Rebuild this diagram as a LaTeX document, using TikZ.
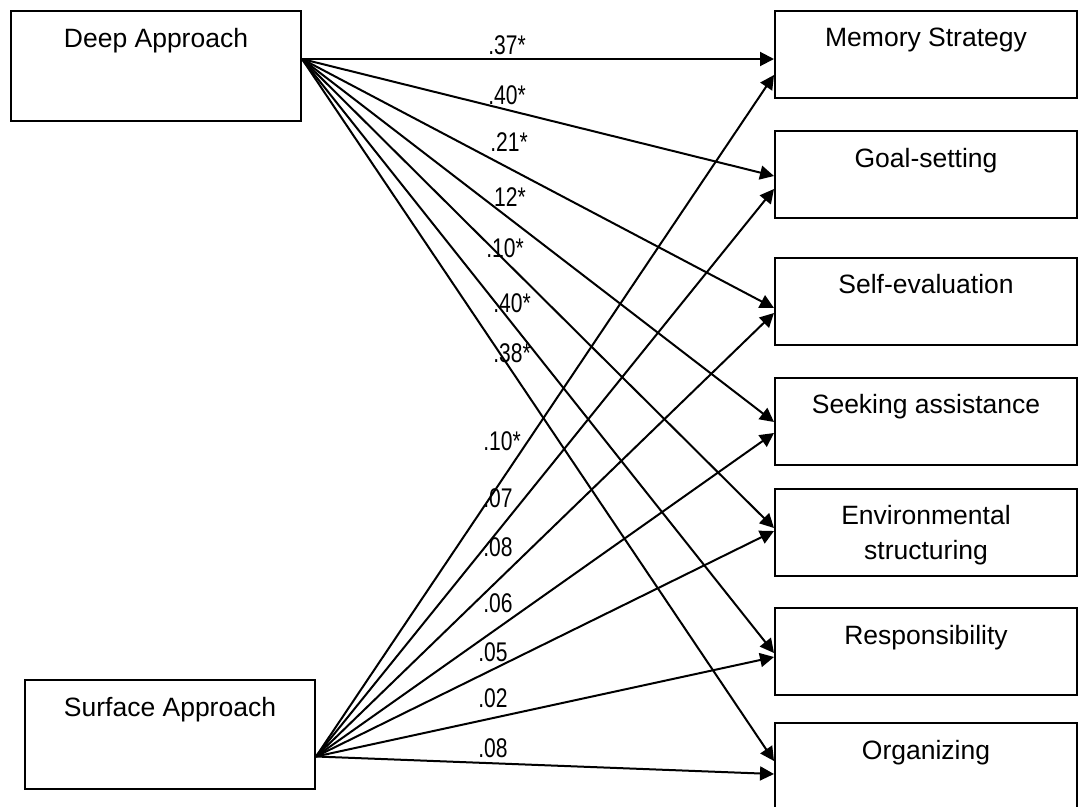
\documentclass[tikz,border=0pt]{standalone}
\usepackage{fontspec}
\setmainfont{Liberation Sans}
\newfontfamily\narrowsans{Liberation Sans}[FakeStretch=0.78]
\usetikzlibrary{arrows.meta,calc}

\begin{document}
\begin{tikzpicture}[x=1pt,y=-1pt,
  box/.style={draw=black,line width=2pt,fill=white,inner sep=0pt,minimum width=302pt,minimum height=87pt},
  boxtxt/.style={anchor=north,inner sep=0pt,yshift=-18pt,align=center,font=\fontsize{26.5}{35}\selectfont},
  arr/.style={-{Triangle[length=14pt,width=14pt]},line width=2pt,draw=black},
  coef/.style={inner sep=0pt,font=\narrowsans\fontsize{27}{30}\selectfont}]
\useasboundingbox (0,0) rectangle (1078,806);
\clip (0,0) rectangle (1078,806);
% approaches
\node[box,minimum width=290pt,minimum height=110pt,label={[boxtxt]north:Deep Approach}] (deep) at (156,66) {};
\node[box,minimum width=290pt,minimum height=109pt,label={[boxtxt]north:Surface Approach}] (surf) at (170,734.5) {};
\coordinate (dout) at ($(deep.east)+(0,-7)$);
\coordinate (sout) at ($(surf.east)+(0,22)$);
% strategies
\node[box,label={[boxtxt]north:Memory Strategy}] (mem) at (926,54.5) {};
\node[box,label={[boxtxt]north:Goal-setting}] (goal) at (926,174.5) {};
\node[box,label={[boxtxt]north:Self-evaluation}] (self) at (926,301) {};
\node[box,label={[boxtxt]north:Seeking assistance}] (seek) at (926,421) {};
\node[box,label={[boxtxt]north:{Environmental\\structuring}}] (env) at (926,532) {};
\node[box,label={[boxtxt]north:Responsibility}] (resp) at (926,651.5) {};
\node[box,label={[boxtxt]north:Organizing}] (org) at (926,766.5) {};
% paths from deep approach
\draw[arr] (dout)--($(mem.west)+(0,4.5)$);
\draw[arr] (dout)--($(goal.west)+(0,1.5)$);
\draw[arr] (dout)--($(self.west)+(0,7)$);
\draw[arr] (dout)--($(seek.west)+(0,1)$);
\draw[arr] (dout)--($(env.west)+(0,-4)$);
\draw[arr] (dout)--($(resp.west)+(0,1.5)$);
\draw[arr] (dout)--($(org.west)+(0,-5.5)$);
% paths from surface approach
\draw[arr] (sout)--($(mem.west)+(0,20.5)$);
\draw[arr] (sout)--($(goal.west)+(0,14.5)$);
\draw[arr] (sout)--($(self.west)+(0,12)$);
\draw[arr] (sout)--($(seek.west)+(0,12)$);
\draw[arr] (sout)--($(env.west)+(0,-1)$);
\draw[arr] (sout)--($(resp.west)+(0,5.5)$);
\draw[arr] (sout)--($(org.west)+(0,7.5)$);
% coefficients
\node[coef] (dmem) at (507,45) {.37*};
\node[coef] (dgoal) at (507,95) {.40*};
\node[coef] (dself) at (509,142) {.21*};
\node[coef] (dseek) at (510,197) {12*};
\node[coef] (denv) at (505,248) {.10*};
\node[coef] (dresp) at (512,303) {.40*};
\node[coef] (dorg) at (512,353) {.38*};
\node[coef] (smem) at (502,441) {.10*};
\node[coef] (sgoal) at (498,498) {.07};
\node[coef] (sself) at (498,547) {.08};
\node[coef] (sseek) at (498,603) {.06};
\node[coef] (senv) at (493,652) {.05};
\node[coef] (sresp) at (493,698) {.02};
\node[coef] (sorg) at (493,748) {.08};
\end{tikzpicture}
\end{document}
